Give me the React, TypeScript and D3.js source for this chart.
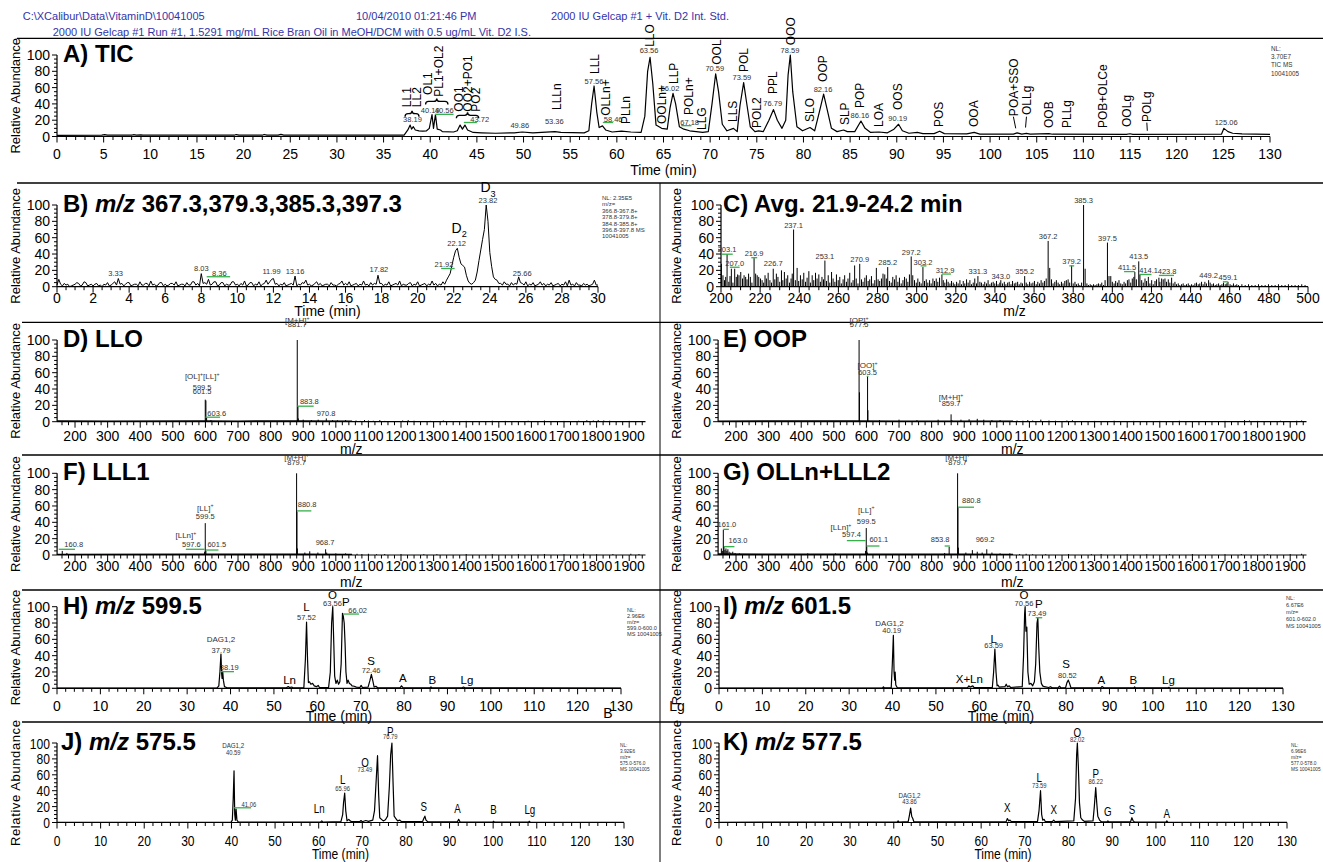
import React from 'react';
import * as d3 from 'd3';

type Pair = [number, number];
type Lab = [number, number, string];
type Seg = [number, number, number];

const FONT = "'Liberation Sans', Arial, Helvetica, sans-serif";
const BLUE = '#3434aa';
const GREEN = '#36b04a';
const INK = '#000';
const SOFT = '#333';

// ================= header =================
const headerPath = 'C:\\XCalibur\\Data\\VitaminD\\10041005';
const headerDate = '10/04/2010 01:21:46 PM';
const headerSample = '2000 IU Gelcap #1 + Vit. D2 Int. Std.';
const headerDesc = '2000 IU Gelcap #1 Run #1, 1.5291 mg/mL Rice Bran Oil in MeOH/DCM with 0.5 ug/mL Vit. D2 I.S.';

const yTicks = [0, 20, 40, 60, 80, 100];

// ================= A) TIC =================
const ticTrace: Pair[] = [
  [0, 1.5], [4.8, 1.6], [5.1, 2.3], [5.4, 1.6], [8.0, 1.6], [8.2, 2.2], [8.5, 1.6], [9.0, 2.0], [9.2, 1.6],
  [19.0, 1.6], [19.2, 2.4], [19.5, 1.6], [22.0, 1.6], [22.2, 2.5], [22.5, 1.6], [23.7, 1.6], [24.0, 2.6], [24.3, 1.6],
  [37.2, 1.8], [37.6, 8], [37.85, 14], [38.0, 9], [38.19, 12], [38.4, 8], [38.8, 7], [39.2, 6.5], [39.6, 7],
  [39.9, 10], [40.19, 27], [40.35, 10], [40.56, 27], [40.75, 9], [41.1, 8], [41.3, 6], [42.5, 5.5], [42.9, 7],
  [43.2, 14], [43.45, 9], [43.72, 14], [44.0, 8], [44.6, 5], [45.5, 4.5], [47, 4], [49, 4.5], [49.86, 5.5],
  [51, 4.5], [53.36, 6], [54, 5], [56.5, 4.5], [57.0, 7], [57.3, 40], [57.56, 62], [57.85, 30], [58.1, 11],
  [58.46, 13], [58.8, 8], [59.5, 5.5], [60.5, 6.5], [61.5, 5.5], [62.6, 5], [63.0, 25], [63.3, 80], [63.56, 97],
  [63.85, 65], [64.2, 14], [64.8, 10], [65.4, 9], [65.7, 35], [66.02, 53], [66.3, 40], [66.7, 12], [67.18, 9],
  [67.8, 7], [68.5, 6], [69.2, 5], [69.8, 6], [70.2, 40], [70.59, 77], [70.9, 55], [71.3, 15], [71.8, 7],
  [72.5, 10], [72.9, 6], [73.2, 38], [73.59, 66], [73.9, 42], [74.3, 12], [74.8, 6], [75.2, 7], [75.7, 6],
  [76.3, 20], [76.79, 33], [77.2, 20], [77.7, 10], [78.1, 20], [78.35, 75], [78.59, 100], [78.85, 55],
  [79.3, 12], [79.9, 7], [80.7, 11], [81.2, 7], [81.7, 30], [82.16, 52], [82.5, 35], [83.0, 10], [83.6, 6],
  [84.3, 8], [84.7, 6], [85.5, 6], [86.16, 19], [86.6, 10], [87.2, 5], [88.1, 5.5], [89.0, 4.5], [89.7, 9],
  [90.19, 15], [90.6, 7], [91.3, 4], [92.2, 5], [92.8, 3.5], [94.0, 3.5], [94.6, 6.5], [95.1, 3.5], [97.5, 3.3],
  [98.3, 5], [98.9, 3], [102.5, 3], [102.9, 4.5], [103.4, 3], [103.9, 3.8], [104.3, 3], [106.3, 3.6],
  [106.7, 2.8], [114.6, 2.6], [115, 3.4], [115.3, 2.6], [124.8, 2.8], [125.06, 10], [125.5, 6], [126, 4],
  [127, 3.2], [128.5, 2.8], [130, 2.5],
];
const ticPeakLabels: Lab[] = [
  [38.1, 17.8, '38.19'], [40.0, 28.8, '40.19'], [41.5, 28.8, '40.56'], [45.3, 17.8, '43.72'],
  [49.6, 10.4, '49.86'], [53.3, 15.3, '53.36'], [57.55, 64.7, '57.56'], [59.6, 17.8, '58.46'],
  [63.45, 102.5, '63.56'], [65.7, 55.4, '66.02'], [67.8, 14.1, '67.18'], [70.5, 80.4, '70.59'],
  [73.4, 69.5, '73.59'], [76.7, 37, '76.79'], [78.55, 102.5, '78.59'], [82.1, 54, '82.16'],
  [86.05, 22.7, '86.16'], [90.1, 18.6, '90.19'], [125.3, 13.7, '125.06'],
];
const ticNames: Lab[] = [
  [37.5, 36, 'LL1'], [38.5, 36, 'LL2'], [39.7, 51, 'OL1'], [40.9, 48.8, 'PL1+OL2'],
  [43.0, 30.5, 'OO1'], [44.0, 30.5, 'OO2+PO1'], [44.9, 30.5, 'PO2'],
  [53.55, 32.5, 'LLLn'], [57.65, 76.7, 'LLL'], [58.85, 25.5, 'OLLn+'], [60.9, 15.3, 'PLLn'],
  [63.5, 110, 'LLO'], [64.8, 15.3, 'OOLn+'], [66.05, 64.4, 'LLP'], [67.66, 26.4, 'POLn+'],
  [69.1, 8, 'LLG'], [70.7, 88, 'OOL'], [72.4, 17.8, 'LLS'], [73.55, 79, 'POL'], [75.0, 10.4, 'POL2'],
  [76.75, 52, 'PPL'], [78.6, 112, 'OOO'], [80.7, 17.8, 'SLO'], [82.1, 67, 'OOP'], [84.45, 14, 'SLP'],
  [86.05, 35, 'POP'], [88.1, 11.7, 'LOA'], [90.05, 32.5, 'OOS'], [94.45, 11.7, 'POS'], [98.2, 11.7, 'OOA'],
  [102.5, 25, 'POA+SSO'], [103.9, 26.4, 'OLLg'], [106.3, 10.4, 'OOB'], [108.2, 10.4, 'PLLg'],
  [112.1, 10.4, 'POB+OLCe'], [114.6, 11.7, 'OOLg'], [116.8, 17.8, 'POLg'],
];
const ticLeaders: [number, number, number, number][] = [
  [102.5, 24.3, 102.75, 10], [103.9, 24.3, 103.8, 11], [116.8, 17, 116.85, 7],
];
const ticBraces: Seg[] = [[37.3, 38.8, 28], [39.5, 41.9, 43], [42.8, 45.2, 26]];
const ticGreens: Seg[] = [[40.5, 42.5, 27.2], [43.6, 45.0, 17.2], [58.5, 59.6, 17.2], [66.9, 68.0, 13.3]];
const ticNL = ['NL:', '3.70E7', 'TIC  MS', '10041005'];

// ================= B) m/z 367.3,379.3,385.3,397.3  (sampled every 0.1 min) =================
const bStep = 0.1;
const bValues = [
  2, 9, 3, 1, 4, 2, 3, 0, 1, 2, 3, 5, 4, 1, 2, 6, 5, 1, 2, 3,
  1, 3, 4, 1, 2, 0, 3, 2, 5, 1, 2, 4, 6, 2, 10, 3, 4, 1, 3, 5,
  5, 1, 2, 3, 3, 1, 6, 2, 2, 4, 4, 1, 7, 2, 3, 1, 2, 5, 5, 1,
  3, 1, 2, 4, 4, 2, 6, 1, 2, 3, 3, 1, 5, 2, 2, 6, 6, 2, 4, 1,
  16, 4, 5, 3, 9, 2, 3, 6, 6, 1, 2, 5, 5, 1, 3, 2, 2, 6, 6, 2,
  3, 1, 4, 2, 7, 1, 2, 5, 5, 1, 3, 2, 6, 1, 3, 4, 8, 3, 6, 9,
  10, 3, 4, 1, 3, 2, 5, 1, 2, 3, 4, 2, 13, 1, 3, 2, 5, 4, 8, 2,
  3, 1, 2, 4, 6, 2, 4, 1, 2, 3, 3, 1, 5, 2, 2, 1, 3, 4, 7, 2,
  4, 2, 6, 1, 2, 3, 4, 1, 3, 2, 7, 2, 3, 1, 5, 2, 4, 3, 14, 4,
  4, 1, 3, 2, 6, 1, 2, 3, 4, 2, 7, 1, 3, 2, 2, 4, 5, 1, 3, 2,
  6, 1, 2, 3, 4, 1, 3, 2, 7, 2, 4, 1, 3, 2, 6, 3, 8, 12, 16, 26,
  36, 44, 47, 36, 28, 26, 24, 14, 7, 4, 3, 5, 8, 18, 32, 45, 58, 70, 100, 80,
  42, 25, 12, 9, 8, 4, 4, 2, 6, 3, 3, 1, 5, 2, 4, 3, 12, 5, 4, 2,
  6, 1, 3, 2, 5, 1, 2, 3, 6, 2, 4, 1, 3, 2, 5, 1, 2, 3, 4, 1,
  3, 2, 6, 1, 8, 2, 3, 1, 5, 2, 2, 1, 4, 2, 3, 1, 2, 3, 8, 2,
  2,
];
const bPeakLabels: Lab[] = [
  [3.25, 13.7, '3.33'], [8.0, 19, '8.03'], [9.0, 13.7, '8.36'], [11.9, 15, '11.99'], [13.2, 15.6, '13.16'],
  [17.85, 18, '17.82'], [21.46, 24, '21.92'], [22.16, 49.5, '22.12'], [23.9, 103, '23.82'], [25.8, 13.7, '25.66'],
];
const bGreens: Seg[] = [[8.3, 9.6, 12.2], [21.3, 22.05, 22.3]];
const bVitD: Lab[] = [[22.3, 66, 'D_2'], [23.9, 115.5, 'D_3']];
const bNL = ['NL: 2.35E5', 'm/z=', '366.8-367.8+', '378.8-379.8+', '384.8-385.8+', '396.8-397.8  MS', '10041005'];

// ================= C) Avg. 21.9-24.2 min =================
const cBars: Pair[] = [
  [200.2, 28], [201.0, 14], [201.8, 8], [202.4, 12], [203.1, 40], [204.0, 6], [204.6, 13], [205.3, 22], [206.1, 5],
  [207.0, 22], [207.8, 12], [208.5, 15], [209.2, 14], [210.1, 18], [211.0, 10], [211.8, 14], [212.6, 12], [213.3, 9],
  [214.1, 16], [215.0, 12], [215.8, 5], [216.9, 35], [217.7, 16], [218.5, 14], [219.3, 12], [220.2, 10], [221.0, 8],
  [221.8, 5], [222.5, 14], [223.2, 10], [224.1, 17], [225.0, 8], [225.8, 5], [226.7, 22], [227.5, 9], [228.3, 16],
  [229.1, 12], [230.0, 6], [230.9, 20], [231.6, 8], [232.4, 18], [233.3, 10], [234.1, 14], [235.0, 5], [235.8, 10],
  [236.4, 16], [237.1, 70], [238.0, 8], [238.9, 23], [239.7, 7], [240.6, 14], [241.5, 9], [242.3, 17], [243.2, 6],
  [244.0, 11], [244.9, 19], [245.7, 5], [246.6, 14], [247.4, 8], [248.3, 17], [249.1, 10], [250.0, 15], [250.8, 6],
  [251.6, 12], [252.4, 9], [253.1, 32], [253.9, 7], [254.8, 14], [255.6, 5], [256.5, 18], [257.3, 10], [258.2, 6],
  [259.0, 15], [259.9, 8], [260.7, 12], [261.5, 4], [262.4, 9], [263.2, 14], [264.1, 6], [264.9, 10], [265.8, 17],
  [266.6, 5], [267.5, 8], [268.3, 26], [269.1, 10], [270.0, 4], [270.9, 28], [271.8, 9], [272.6, 6], [273.5, 11],
  [274.3, 14], [275.2, 7], [276.0, 9], [276.9, 13], [277.7, 4], [278.6, 8], [279.4, 23], [280.3, 9], [281.1, 7],
  [282.0, 10], [282.8, 16], [283.7, 15], [284.5, 10], [285.2, 24], [286.1, 7], [287.0, 5], [287.8, 12], [288.7, 9],
  [289.5, 14], [290.4, 6], [291.2, 11], [292.1, 4], [293.0, 8], [293.8, 12], [294.7, 10], [295.5, 6], [296.3, 15],
  [297.2, 37], [298.0, 14], [298.9, 8], [299.8, 5], [300.6, 10], [301.5, 6], [302.3, 4], [303.2, 24], [304.0, 7],
  [304.9, 9], [305.7, 5], [306.6, 8], [307.4, 4], [308.3, 10], [309.1, 7], [310.0, 10], [310.8, 6], [311.7, 11],
  [312.9, 15], [313.6, 8], [314.4, 5], [315.3, 9], [316.1, 6], [317.0, 4], [317.8, 7], [318.7, 5], [319.5, 3],
  [320.4, 6], [321.2, 4], [322.1, 8], [322.9, 3], [323.8, 7], [324.6, 4], [325.5, 9], [326.3, 5], [327.2, 8],
  [328.0, 3], [328.9, 5], [329.7, 10], [330.6, 4], [331.3, 13], [332.3, 6], [333.1, 5], [334.0, 3], [334.8, 6],
  [335.7, 4], [336.5, 8], [337.4, 3], [338.2, 5], [339.1, 6], [339.9, 4], [340.8, 7], [341.6, 3], [342.5, 5],
  [343.0, 8], [343.9, 4], [344.8, 6], [345.6, 3], [346.5, 5], [347.3, 6], [348.2, 3], [349.0, 7], [349.9, 4],
  [350.7, 5], [351.6, 6], [352.4, 3], [353.3, 5], [354.1, 4], [355.2, 13], [356.0, 5], [356.8, 3], [357.7, 6],
  [358.5, 4], [359.4, 5], [360.2, 7], [361.1, 3], [361.9, 6], [362.8, 4], [363.6, 8], [364.5, 5], [365.3, 7],
  [366.2, 10], [367.2, 56], [368.0, 23], [368.9, 9], [369.7, 4], [370.6, 6], [371.4, 8], [372.3, 5], [373.1, 3],
  [374.0, 6], [374.8, 4], [375.7, 7], [376.5, 8], [377.4, 9], [378.2, 5], [379.2, 26], [380.0, 4], [380.9, 6],
  [381.7, 3], [382.6, 4], [383.4, 2], [384.3, 5], [385.3, 100], [386.1, 22], [387.0, 4], [387.8, 2], [388.7, 3],
  [389.5, 2], [390.4, 3], [391.2, 2], [392.1, 3], [392.9, 4], [393.8, 3], [394.6, 5], [395.5, 2], [396.3, 8],
  [397.5, 54], [398.3, 13], [399.2, 13], [400.0, 6], [400.9, 4], [401.7, 7], [402.6, 5], [403.4, 8], [404.3, 4],
  [405.1, 3], [406.0, 6], [406.8, 4], [407.7, 8], [408.5, 9], [409.4, 5], [410.2, 10], [411.0, 12], [411.5, 18],
  [412.3, 9], [413.5, 31], [414.1, 15], [415.0, 8], [415.8, 5], [416.7, 10], [417.5, 7], [418.4, 12], [419.2, 4],
  [420.1, 8], [420.9, 3], [421.8, 7], [422.6, 9], [423.8, 11], [424.3, 6], [425.2, 10], [426.0, 9], [426.9, 10],
  [427.7, 6], [428.6, 9], [429.4, 5], [430.3, 11], [431.1, 4], [432.0, 6], [432.8, 3], [433.7, 4], [434.5, 2],
  [435.4, 3], [436.2, 4], [437.1, 2], [437.9, 3], [438.8, 4], [439.6, 2], [440.5, 3], [441.3, 2], [442.2, 4],
  [443.0, 5], [443.9, 3], [444.7, 4], [445.6, 6], [446.4, 3], [447.3, 6], [448.1, 4], [449.2, 8], [450.0, 5],
  [450.9, 3], [451.7, 4], [452.6, 2], [453.4, 3], [454.3, 4], [455.1, 2], [456.0, 3], [456.8, 5], [457.7, 3],
  [458.5, 4], [459.1, 6], [460.2, 3], [461.1, 2], [461.9, 4], [462.8, 2], [463.6, 3], [464.5, 2], [466.2, 3],
  [467.9, 2], [469.6, 3], [471.3, 2], [473.0, 2], [474.7, 3], [476.4, 2], [478.1, 2], [479.8, 3], [481.5, 2],
  [483.2, 2], [484.9, 3], [486.6, 2], [488.3, 2], [490.0, 3], [491.7, 2], [493.4, 2], [495.1, 2], [496.8, 3], [498.5, 2],
];
const cPeakLabels: Lab[] = [
  [203.1, 42, '203.1'], [207.0, 25.5, '207.0'], [216.9, 37.5, '216.9'], [226.7, 25, '226.7'], [237.1, 72, '237.1'],
  [253.1, 34, '253.1'], [270.9, 30, '270.9'], [285.2, 26, '285.2'], [297.2, 39, '297.2'], [303.2, 27, '303.2'],
  [314.5, 17, '312.9'], [331.3, 16, '331.3'], [343.0, 10, '343.0'], [355.2, 15.5, '355.2'], [367.2, 58.5, '367.2'],
  [379.2, 28, '379.2'], [385.3, 102.5, '385.3'], [397.5, 56.5, '397.5'], [407.5, 20, '411.5'], [413.5, 33.5, '413.5'],
  [418.5, 17, '414.1'], [428, 16, '423.8'], [449.2, 10.5, '449.2'], [459.1, 8.5, '459.1'],
];
const cGreens: Seg[] = [
  [200.5, 206, 39.8], [204.5, 209.5, 23.8], [215.5, 218.5, 35.5], [302, 305, 25.5], [312.9, 317.5, 15.5],
  [378, 380.5, 25.5], [406, 411.5, 18.5], [414.1, 420, 15], [423.8, 431.5, 13.8], [456.5, 459, 6],
];

// ================= D) LLO =================
const dBars: Pair[] = [
  [599.5, 27], [601.5, 26], [603.6, 5], [617, 2], [881.7, 100], [883.8, 19], [885, 4], [900, 2.5], [925, 2],
  [946, 2.5], [970.8, 4], [990, 2], [1005, 1.8], [1030, 2], [1062, 1.5], [1075, 1], [1088, 2], [1100, 1.5],
  [1115, 1.2], [1135, 2], [1150, 1], [1205, 1.5], [1222, 2], [1240, 1.2], [1290, 1], [1330, 1.5], [1400, 1],
  [1480, 1.2], [1520, 1], [1590, 1.2], [1640, 1.5], [1700, 1], [1745, 1.2], [1770, 1.8], [1790, 1.5],
  [1805, 2], [1822, 1.5], [1840, 1.2], [1900, 1],
];
const dFloor: Pair[] = [[145, 1.8], [300, 1.6], [590, 1.8], [700, 1.6], [880, 1.8], [1050, 1.5]];
const dPeakLabels: Lab[] = [[881.7, 115.9, '881.7'], [590, 39.4, '599.5'], [590, 34, '601.5'], [634.7, 7.5, '603.6'], [918.7, 21.5, '883.8'], [970, 7.5, '970.8']];
const dTags: Lab[] = [[881.7, 120.8, '[M+H]^+'], [590, 52, '[OL]^+[LL]^+']];
const dGreens: Seg[] = [[600, 645, 5.5], [881.7, 932, 19]];

// ================= E) OOP =================
const eBars: Pair[] = [
  [577.5, 100], [578.6, 36], [603.5, 55], [604.6, 14], [640, 2], [700, 2.5], [755, 2], [820, 2.5], [859.7, 9],
  [862, 2], [890, 2.5], [915, 3], [940, 3.5], [960, 2.5], [985, 2], [1010, 2], [1062, 1.5], [1080, 1.2],
  [1095, 2], [1110, 1.5], [1135, 2.5], [1160, 1.5], [1180, 1.2], [1215, 1.5], [1232, 1.8], [1300, 1],
  [1360, 1.2], [1420, 1], [1500, 1], [1560, 1.2], [1700, 1], [1760, 2], [1775, 1.5], [1800, 1], [1870, 1.2],
  [1920, 1.2], [1935, 1.5],
];
const eFloor: Pair[] = [[145, 1.6], [560, 1.8], [700, 1.6], [1050, 1.5]];
const ePeakLabels: Lab[] = [[577.5, 115.9, '577.5'], [603.5, 57.2, '603.5'], [859.7, 19.2, '859.7']];
const eTags: Lab[] = [[577.5, 120.8, '[OP]^+'], [603.5, 65.7, '[OO]^+'], [859.7, 26.6, '[M+H]^+']];
const eGreens: Seg[] = [[601, 606, 55.5]];

// ================= F) LLL1 =================
const fBars: Pair[] = [
  [160.8, 5], [175, 2.5], [597.6, 4], [599.5, 39], [601.5, 5], [879.7, 100], [880.8, 53], [882, 8], [905, 3],
  [920, 4.5], [945, 3], [968.7, 7], [972, 3], [1000, 2], [1030, 2], [1065, 1.5], [1080, 1.2], [1100, 1.5],
  [1125, 1], [1150, 1.2], [1200, 1.2], [1270, 1], [1310, 1], [1400, 1.2], [1480, 1], [1560, 1], [1640, 1.2],
  [1700, 1], [1760, 1.5], [1800, 1], [1850, 1.2], [1905, 1.5], [1930, 1.2],
];
const fFloor: Pair[] = [[145, 1.6], [580, 1.8], [900, 1.8], [1050, 1.5]];
const fPeakLabels: Lab[] = [[879.7, 110, '879.7'], [599.5, 43.7, '599.5'], [557, 9.4, '597.6'], [635, 9.4, '601.5'], [912, 59, '880.8'], [967, 12.2, '968.7'], [196, 10.2, '160.8']];
const fTags: Lab[] = [[879.7, 116, '[M+H]^+'], [599.5, 54.3, '[LL]^+'], [540, 20.4, '[LLn]^+']];
const fGreens: Seg[] = [[540, 597.6, 7], [601.5, 640, 6.1], [880.8, 925, 54], [150, 200, 7]];

// ================= G) OLLn+LLL2 =================
const gBars: Pair[] = [
  [155, 8], [158, 5], [161.0, 31], [163.0, 10], [166, 6], [169, 8], [172, 5], [175, 7], [179, 4], [184, 3],
  [190, 4], [197, 2.5], [210, 2], [420, 2], [505, 2], [597.4, 5], [599.5, 33], [601.1, 10], [603, 3], [840, 2.5],
  [853.8, 10], [879.7, 100], [880.8, 58], [882, 9], [905, 3], [925, 6], [940, 4], [955, 3], [969.2, 7], [985, 3],
  [1010, 2], [1040, 2], [1070, 1.2], [1090, 1.5], [1110, 1], [1150, 1], [1220, 1.2], [1290, 1], [1320, 1.2],
  [1400, 1], [1460, 1], [1530, 1], [1600, 1.2], [1700, 1], [1750, 1.2], [1830, 1], [1900, 1.2], [1935, 1.5],
];
const gFloor: Pair[] = [[145, 2], [600, 1.8], [900, 1.8], [1050, 1.5]];
const gPeakLabels: Lab[] = [[879.7, 110, '879.7'], [922, 63.3, '880.8'], [599.5, 38, '599.5'], [554, 22.4, '597.4'], [638, 16.3, '601.1'], [826, 16.3, '853.8'], [964, 16.3, '969.2'], [172, 33.9, '161.0'], [206, 14.3, '163.0']];
const gTags: Lab[] = [[879.7, 116, '[M+H]^+'], [599.5, 51.8, '[LL]^+'], [522, 30.6, '[LLn]^+']];
const gGreens: Seg[] = [[880.8, 930, 58.5], [540, 597.4, 17.6], [601.1, 640, 11], [840, 856, 11], [161, 178, 31.4], [163, 195, 10.2]];

// ================= H) m/z 599.5 =================
const hTrace: Pair[] = [
  [0, 0.3], [30, 0.3], [36.9, 0.5], [37.3, 3], [37.55, 20], [37.79, 42], [37.95, 18], [38.05, 12], [38.19, 21],
  [38.35, 10], [38.6, 2], [39.2, 0.6], [52.9, 0.6], [53.3, 2.2], [53.6, 1], [54.1, 1.5], [54.4, 0.6], [56.9, 0.8],
  [57.25, 35], [57.52, 81], [57.75, 35], [57.95, 7], [58.2, 8], [58.5, 5], [58.9, 6], [59.3, 3], [59.8, 2],
  [60.2, 3.5], [60.5, 1], [62.6, 1], [63.0, 20], [63.3, 80], [63.56, 100], [63.8, 55], [64.0, 15], [64.3, 6],
  [64.6, 10], [64.9, 5], [65.2, 8], [65.5, 30], [65.8, 92], [66.0, 88], [66.2, 80], [66.4, 55], [66.6, 20],
  [66.85, 6], [67.1, 10], [67.4, 6], [67.7, 5], [68.0, 3], [68.5, 2.5], [69.0, 1.5], [69.8, 1], [70.1, 3.5],
  [70.4, 1], [71.7, 1.5], [72.1, 9], [72.46, 17], [72.8, 9], [73.1, 1.5], [73.5, 2.5], [73.9, 0.6], [79.1, 0.8],
  [79.4, 3], [79.7, 1], [86.0, 0.6], [86.2, 1.6], [86.4, 0.6], [93.4, 0.6], [93.7, 1.6], [94.0, 0.6], [130, 0.3],
];
const hPeakLabels: Lab[] = [[37.8, 43.3, '37.79'], [39.7, 22, '38.19'], [57.5, 83.3, '57.52'], [63.5, 101, '63.56'], [69.3, 92.2, '66.02'], [72.4, 18.8, '72.46']];
const hTags: Lab[] = [[37.8, 56.3, 'DAG1,2']];
const hNames: Lab[] = [[57.5, 94.7, 'L'], [63.5, 109, 'O'], [66.6, 100.8, 'P'], [72.4, 28.6, 'S'], [53.6, 4.9, 'Ln'], [79.7, 8.2, 'A'], [86.5, 5.7, 'B'], [94.5, 4.9, 'Lg']];
const hGreens: Seg[] = [[37.5, 40.8, 20.4], [66.0, 69.6, 91]];
const hNL = ['NL:', '2.96E6', 'm/z=', '599.0-600.0', 'MS 10041005'];

// ================= I) m/z 601.5 =================
const iTrace: Pair[] = [
  [0, 0.3], [37.7, 0.4], [37.9, 1.8], [38.1, 0.4], [39.7, 0.6], [39.95, 30], [40.19, 65], [40.35, 20], [40.5, 10],
  [40.6, 20], [40.75, 4], [41.1, 0.6], [57.3, 0.8], [57.6, 3], [57.9, 1.5], [58.5, 3], [58.8, 0.8], [63.0, 1],
  [63.3, 20], [63.59, 48], [63.85, 20], [64.1, 3], [64.3, 4], [64.6, 1.5], [65.9, 2], [66.2, 5], [66.5, 2],
  [66.9, 3], [67.2, 1], [69.9, 2], [70.2, 40], [70.45, 92], [70.56, 100], [70.75, 70], [70.95, 75], [71.2, 20],
  [71.5, 5], [71.9, 6], [72.3, 3], [72.7, 8], [73.0, 30], [73.3, 80], [73.49, 86], [73.7, 50], [73.95, 20],
  [74.3, 6], [74.6, 3], [75.0, 2], [76.0, 1], [76.4, 2], [76.8, 0.6], [78.2, 1], [78.5, 2.5], [78.8, 0.6],
  [79.9, 1], [80.2, 7], [80.52, 10], [80.8, 6], [81.1, 1], [88.0, 0.6], [88.3, 2.2], [88.7, 0.6], [95.6, 0.5],
  [95.8, 1.6], [96.0, 0.5], [103.5, 0.5], [103.7, 1.2], [103.9, 0.5], [130, 0.3],
];
const iPeakLabels: Lab[] = [[39.8, 67.5, '40.19'], [63.3, 49.8, '63.59'], [70.3, 101.2, '70.56'], [73.3, 88.5, '73.49'], [80.3, 13.1, '80.52']];
const iTags: Lab[] = [[39.3, 76.7, 'DAG1,2']];
const iNames: Lab[] = [[63.3, 55.9, 'L'], [70.3, 109, 'O'], [73.7, 98.8, 'P'], [80, 25.3, 'S'], [57.7, 6.9, 'X+Ln'], [88.1, 5.7, 'A'], [95.5, 5.7, 'B'], [103.6, 5.7, 'Lg']];
const iGreens: Seg[] = [[73.0, 74.5, 86.5]];
const iNL = ['NL:', '6.67E6', 'm/z=', '601.0-602.0', 'MS 10041005'];

// ================= J) m/z 575.5 =================
const jTrace: Pair[] = [
  [0, 0.3], [39.9, 0.5], [40.2, 3], [40.4, 30], [40.59, 65], [40.75, 10], [40.9, 3], [41.06, 17], [41.25, 3],
  [41.6, 0.5], [60.4, 0.5], [60.7, 2], [61.0, 0.5], [65.1, 1], [65.5, 10], [65.7, 25], [65.96, 37], [66.2, 15],
  [66.5, 2], [66.9, 4], [67.2, 2], [67.6, 1], [69.4, 1], [69.7, 2.5], [70.0, 1], [70.8, 2.5], [71.4, 1.5],
  [72.4, 3], [72.8, 15], [73.1, 45], [73.49, 84], [73.75, 35], [74.0, 6], [74.4, 4], [74.8, 2], [75.3, 3.5],
  [75.8, 8], [76.2, 45], [76.5, 85], [76.79, 100], [77.05, 50], [77.3, 8], [77.7, 5], [78.1, 2], [78.6, 3],
  [79.0, 1], [83.8, 1], [84.1, 5], [84.35, 8], [84.6, 3], [85.0, 1], [91.8, 0.8], [92.1, 4], [92.4, 0.8],
  [99.9, 0.5], [100.1, 1.5], [100.3, 0.5], [108.1, 0.5], [108.3, 1.5], [108.5, 0.5], [130, 0.3],
];
const jPeakLabels: Lab[] = [[40.4, 84.8, '40.59'], [44.0, 19.6, '41.06'], [65.5, 40, '65.96'], [70.6, 64, '73.49'], [76.4, 104.8, '76.79']];
const jTags: Lab[] = [[40.4, 93.6, 'DAG1,2']];
const jNames: Lab[] = [[60.1, 12, 'Ln'], [65.5, 49, 'L'], [70.6, 69.2, 'O'], [76.4, 109, 'P'], [84.1, 14.4, 'S'], [91.8, 12, 'A'], [100.1, 11.2, 'B'], [108.4, 10.4, 'Lg']];
const jGreens: Seg[] = [[40.6, 44.5, 18.5]];
const jNL = ['NL:', '3.92E6', 'm/z=', '575.0-576.0', 'MS 10041005'];

// ================= K) m/z 577.5 =================
const kTrace: Pair[] = [
  [0, 0.3], [40.8, 0.5], [41.0, 2], [41.2, 0.5], [43.3, 1], [43.55, 8], [43.86, 18], [44.1, 8], [44.35, 5],
  [44.6, 1], [65.7, 0.8], [66.0, 5], [66.3, 2], [66.6, 3], [66.9, 1], [72.9, 1.5], [73.25, 15], [73.59, 40],
  [73.85, 10], [74.1, 3], [74.4, 4], [74.7, 1], [76.3, 1], [76.6, 3], [76.9, 1], [81.2, 2], [81.6, 30],
  [81.85, 85], [82.02, 100], [82.25, 70], [82.5, 25], [82.8, 6], [83.2, 3], [83.6, 1.5], [85.6, 2], [85.9, 20],
  [86.22, 44], [86.45, 25], [86.7, 8], [87.1, 3], [87.5, 1], [88.8, 0.8], [89.0, 2], [89.3, 0.8], [94.2, 1],
  [94.5, 6], [94.8, 2], [95.1, 0.8], [102.3, 0.6], [102.5, 2], [102.7, 0.6], [130, 0.3],
];
const kPeakLabels: Lab[] = [[43.6, 22.8, '43.86'], [73.3, 43, '73.59'], [82.0, 100.8, '82.02'], [86.22, 48, '86.22']];
const kTags: Lab[] = [[43.6, 30.8, 'DAG1,2']];
const kNames: Lab[] = [[66.0, 13.2, 'X'], [73.3, 50.5, 'L'], [76.6, 11.2, 'X'], [82.0, 108, 'O'], [86.22, 56, 'P'], [89, 8, 'G'], [94.5, 11.2, 'S'], [102.5, 5.2, 'A']];
const kNL = ['NL:', '6.96E6', 'm/z=', '577.0-578.0', 'MS 10041005'];

// ================= layout =================
interface Cfg { x0: number; x1: number; d: [number, number]; y100: number; y0: number; lbl: number; xl: number }
const LAY: Record<string, Cfg> = {
  A: { x0: 57, x1: 1270, d: [0, 130], y100: 55, y0: 136.5, lbl: 17.5, xl: 33.5 },
  B: { x0: 57, x1: 598, d: [0, 30], y100: 205, y0: 286.7, lbl: 11.6, xl: 24.8 },
  C: { x0: 721, x1: 1308, d: [200, 500], y100: 205, y0: 286.7, lbl: 11.6, xl: 24.8 },
  D: { x0: 57.1, x1: 645.5, d: [145, 1950], y100: 340, y0: 421.7, lbl: 14.3, xl: 27.3 },
  E: { x0: 718.1, x1: 1306.5, d: [145, 1950], y100: 340, y0: 421.7, lbl: 14.3, xl: 27.3 },
  F: { x0: 57.1, x1: 645.5, d: [145, 1950], y100: 473.3, y0: 555, lbl: 11, xl: 27 },
  G: { x0: 718.1, x1: 1306.5, d: [145, 1950], y100: 473.3, y0: 555, lbl: 11, xl: 27 },
  H: { x0: 57, x1: 621, d: [0, 130], y100: 606.7, y0: 688.3, lbl: 17.7, xl: 28.4 },
  I: { x0: 719, x1: 1283, d: [0, 130], y100: 606.7, y0: 688.3, lbl: 17.7, xl: 28.4 },
  J: { x0: 57, x1: 624, d: [0, 130], y100: 743, y0: 822.5, lbl: 17.5, xl: 31.5 },
  K: { x0: 719, x1: 1287, d: [0, 130], y100: 743, y0: 822.5, lbl: 17.5, xl: 31.5 },
};

function sc(c: Cfg) {
  const x = d3.scaleLinear().domain(c.d).range([c.x0, c.x1]);
  const y = d3.scaleLinear().domain([0, 100]).range([c.y0, c.y100]);
  return { x, y };
}

function stepTicks(d: [number, number], step: number) {
  const out: number[] = [];
  const s = Math.ceil(d[0] / step - 1e-9);
  const e = Math.floor(d[1] / step + 1e-9);
  for (let i = s; i <= e; i++) out.push(+(i * step).toFixed(6));
  return out;
}

function T({ x, y, size = 14, anchor = 'middle', sx = 1, rotate = 0, weight = 'normal', fill = INK, children, ls }: any) {
  const tr = `translate(${x},${y})` + (rotate ? ` rotate(${rotate})` : '') + (sx !== 1 ? ` scale(${sx},1)` : '');
  return (
    <text transform={tr} fontSize={size} textAnchor={anchor} fontWeight={weight} fill={fill} fontFamily={FONT} letterSpacing={ls}>
      {children}
    </text>
  );
}

function rich(s: string, size: number) {
  const re = /([\^_])(.)/g;
  const out: React.ReactNode[] = [];
  let last = 0, shift = 0, k = 0;
  let m: RegExpExecArray | null;
  while ((m = re.exec(s))) {
    if (m.index > last) { out.push(<tspan key={k++} dy={-shift}>{s.slice(last, m.index)}</tspan>); shift = 0; }
    const d = m[1] === '^' ? -size * 0.42 : size * 0.3;
    out.push(<tspan key={k++} dy={d - shift} fontSize={size * 0.65}>{m[2]}</tspan>);
    shift = d;
    last = re.lastIndex;
  }
  if (last < s.length) out.push(<tspan key={k++} dy={-shift}>{s.slice(last)}</tspan>);
  return out;
}

function Frame({ c, major, minor, xlabel, right, sx = 1, ls, fs = 14 }: any) {
  const { x, y } = sc(c);
  const majors = stepTicks(c.d, major);
  const minors = stepTicks(c.d, minor).filter((v) => !majors.some((mm) => Math.abs(mm - v) < 1e-6));
  const yMinor = stepTicks([0, 100], 5).filter((v) => v % 20 !== 0);
  const ylx = right ? 681 : 20;
  const half = fs * 0.36;
  return (
    <g>
      <line x1={c.x0} x2={c.x1} y1={c.y0} y2={c.y0} stroke={INK} strokeWidth={1.2} />
      <line x1={c.x0} x2={c.x0} y1={c.y0} y2={c.y100} stroke={INK} strokeWidth={1.2} />
      {majors.map((v) => <line key={'M' + v} x1={x(v)} x2={x(v)} y1={c.y0} y2={c.y0 + 6} stroke={INK} />)}
      {minors.map((v) => <line key={'m' + v} x1={x(v)} x2={x(v)} y1={c.y0} y2={c.y0 + 3.5} stroke={INK} />)}
      {majors.map((v) => <T key={'L' + v} x={x(v)} y={c.y0 + c.lbl + half} size={fs} sx={sx}>{String(v)}</T>)}
      {yTicks.map((v) => <line key={'Y' + v} x1={c.x0 - 5} x2={c.x0} y1={y(v)} y2={y(v)} stroke={INK} />)}
      {yMinor.map((v) => <line key={'y' + v} x1={c.x0 - 3} x2={c.x0} y1={y(v)} y2={y(v)} stroke={INK} />)}
      {yTicks.map((v) => <T key={'YL' + v} x={c.x0 - 7} y={y(v) + half} size={fs} anchor="end" sx={sx}>{String(v)}</T>)}
      <T x={(c.x0 + c.x1) / 2} y={c.y0 + c.xl + 4.5} size={fs} sx={sx}>{xlabel}</T>
      <T x={ylx} y={(c.y0 + c.y100) / 2} size={13} rotate={-90} ls={ls}>Relative Abundance</T>
    </g>
  );
}

function Panel(p: any) {
  const c: Cfg = p.c;
  const { x, y } = sc(c);
  const sx = p.sx ?? 1;
  const line = d3.line<Pair>().x((d) => x(d[0])).y((d) => y(d[1]));
  const area = d3.area<Pair>().x((d) => x(d[0])).y0(c.y0).y1((d) => y(d[1]));
  return (
    <g>
      <Frame c={c} major={p.major} minor={p.minor} xlabel={p.xlabel} right={p.right} sx={sx} ls={p.ls} fs={p.fs ?? 14} />
      {p.floor && <path d={area(p.floor) || ''} fill={INK} />}
      {p.bars && p.bars.map(([m, v]: Pair, i: number) => (
        <line key={'b' + i} x1={x(m)} x2={x(m)} y1={c.y0} y2={y(v)} stroke={INK} strokeWidth={1} />
      ))}
      {p.trace && <path d={line(p.trace) || ''} fill="none" stroke={INK} strokeWidth={p.lw ?? 1.2} strokeLinejoin="round" />}
      {(p.greens || []).map(([a, b, l]: Seg, i: number) => (
        <line key={'g' + i} x1={x(a)} x2={x(b)} y1={y(l)} y2={y(l)} stroke={GREEN} strokeWidth={1.3} />
      ))}
      {(p.nums || []).map(([a, l, s]: Lab, i: number) => (
        <T key={'n' + i} x={x(a)} y={y(l)} size={7.5} fill={SOFT} sx={sx}>{s}</T>
      ))}
      {(p.tags || []).map(([a, l, s]: Lab, i: number) => (
        <T key={'t' + i} x={x(a)} y={y(l)} size={8} fill={SOFT} sx={sx}>{rich(s, 8)}</T>
      ))}
      {(p.names || []).map(([a, l, s]: Lab, i: number) => (
        <T key={'a' + i} x={x(a)} y={y(l)} size={p.nameSize ?? 11.5} sx={sx}>{s}</T>
      ))}
      {(p.nl || []).map((s: string, i: number) => (
        <T key={'nl' + i} x={p.nlX} y={p.nlY + i * p.nlGap} size={p.nlSize ?? 6} anchor="start" fill={SOFT} sx={p.nlSx ?? 1}>{s}</T>
      ))}
      <T x={p.titleX} y={c.y100 + 7} size={24} weight="bold" anchor="start">{p.title}</T>
    </g>
  );
}

function bracePath(x1: number, x2: number, yb: number) {
  const xm = (x1 + x2) / 2, h = 3;
  return `M${x1},${yb + h} Q${x1},${yb} ${x1 + h},${yb} L${xm - h},${yb} Q${xm},${yb} ${xm},${yb - h} Q${xm},${yb} ${xm + h},${yb} L${x2 - h},${yb} Q${x2},${yb} ${x2},${yb + h}`;
}

const mz = (rest: string, letter: string) => (
  <>
    {letter + ') '}
    <tspan fontStyle="italic">m/z</tspan>
    {' ' + rest}
  </>
);

export default function App() {
  const A = sc(LAY.A);
  const B = sc(LAY.B);
  const bTrace: Pair[] = bValues.map((v, i) => [+(i * bStep).toFixed(2), v]);
  return (
    <svg width={1323} height={862} style={{ position: 'absolute', left: 0, top: 0, background: '#fff' }} fontFamily={FONT}>
      <rect x={0} y={0} width={1323} height={862} fill="#fff" />
      {/* header */}
      <T x={22.7} y={20} size={11} anchor="start" fill={BLUE}>{headerPath}</T>
      <T x={356} y={20} size={11} anchor="start" fill={BLUE}>{headerDate}</T>
      <T x={551} y={20} size={11} anchor="start" fill={BLUE}>{headerSample}</T>
      <T x={52.7} y={35.5} size={11} anchor="start" fill={BLUE}>{headerDesc}</T>
      <line x1={17} x2={1323} y1={38.3} y2={38.3} stroke={INK} strokeWidth={1.3} />

      {/* separators */}
      <line x1={17} x2={1323} y1={183} y2={183} stroke={INK} strokeWidth={1.3} />
      <line x1={22} x2={1323} y1={322.3} y2={322.3} stroke={INK} strokeWidth={1.3} />
      <line x1={22} x2={1323} y1={455} y2={455} stroke={INK} strokeWidth={1.3} />
      <line x1={22} x2={1323} y1={590} y2={590} stroke={INK} strokeWidth={1.3} />
      <line x1={22} x2={1323} y1={722} y2={722} stroke={INK} strokeWidth={1.3} />
      <line x1={660} x2={660} y1={183} y2={862} stroke={INK} strokeWidth={1} />

      {/* A */}
      <Panel c={LAY.A} major={5} minor={1} xlabel="Time (min)" trace={ticTrace} nums={ticPeakLabels}
        greens={ticGreens} nl={ticNL} nlX={1271} nlY={50.5} nlGap={8.4} nlSize={6.3} title="A) TIC" titleX={63} />
      {ticNames.map(([t, l, s], i) => (
        <T key={'tn' + i} x={A.x(t) + 4.3} y={A.y(l)} size={12} rotate={-90} anchor="start">{s}</T>
      ))}
      {ticLeaders.map(([t1, l1, t2, l2], i) => (
        <line key={'ld' + i} x1={A.x(t1)} y1={A.y(l1)} x2={A.x(t2)} y2={A.y(l2)} stroke={INK} strokeWidth={1} />
      ))}
      {ticBraces.map(([t1, t2, l], i) => (
        <path key={'br' + i} d={bracePath(A.x(t1), A.x(t2), A.y(l))} fill="none" stroke={INK} strokeWidth={1.3} />
      ))}

      {/* B */}
      <Panel c={LAY.B} major={2} minor={0.5} xlabel="Time (min)" trace={bTrace} lw={1} nums={bPeakLabels}
        greens={bGreens} nl={bNL} nlX={602} nlY={200} nlGap={6.4} nlSize={6}
        title={mz('367.3,379.3,385.3,397.3', 'B')} titleX={63} />
      {bVitD.map(([t, l, s], i) => (
        <T key={'vd' + i} x={B.x(t)} y={B.y(l)} size={14}>{rich(s, 14)}</T>
      ))}

      {/* C */}
      <Panel c={LAY.C} right major={20} minor={5} xlabel="m/z" bars={cBars} nums={cPeakLabels} greens={cGreens}
        title="C) Avg. 21.9-24.2 min" titleX={723} />

      {/* D, E */}
      <Panel c={LAY.D} major={100} minor={20} xlabel="m/z" bars={dBars} floor={dFloor} nums={dPeakLabels}
        tags={dTags} greens={dGreens} title="D) LLO" titleX={63} />
      <Panel c={LAY.E} right major={100} minor={20} xlabel="m/z" bars={eBars} floor={eFloor} nums={ePeakLabels}
        tags={eTags} greens={eGreens} title="E) OOP" titleX={723} />

      {/* F, G */}
      <Panel c={LAY.F} major={100} minor={20} xlabel="m/z" bars={fBars} floor={fFloor} nums={fPeakLabels}
        tags={fTags} greens={fGreens} title="F) LLL1" titleX={63} />
      <Panel c={LAY.G} right major={100} minor={20} xlabel="m/z" bars={gBars} floor={gFloor} nums={gPeakLabels}
        tags={gTags} greens={gGreens} title="G) OLLn+LLL2" titleX={723} />

      {/* H, I */}
      <Panel c={LAY.H} major={10} minor={2} xlabel="Time (min)" trace={hTrace} nums={hPeakLabels} tags={hTags}
        names={hNames} greens={hGreens} nl={hNL} nlX={627} nlY={612} nlGap={6} nlSize={5.6} title={mz('599.5', 'H')} titleX={63} />
      <Panel c={LAY.I} right major={10} minor={2} xlabel="Time (min)" trace={iTrace} nums={iPeakLabels} tags={iTags}
        names={iNames} greens={iGreens} nl={iNL} nlX={1286} nlY={600} nlGap={7} nlSize={5.6} title={mz('601.5', 'I')} titleX={723} />
      <T x={608} y={718} size={14}>B</T>
      <T x={677} y={711} size={14}>Lg</T>

      {/* J, K */}
      <Panel c={LAY.J} sx={0.78} fs={15.5} ls={0.6} nameSize={12.5} major={10} minor={2} xlabel="Time (min)" trace={jTrace} nums={jPeakLabels}
        tags={jTags} names={jNames} greens={jGreens} nl={jNL} nlX={620} nlY={747} nlGap={6} nlSize={5.8} nlSx={0.82}
        title={mz('575.5', 'J')} titleX={61} />
      <Panel c={LAY.K} right sx={0.78} fs={15.5} ls={0.6} nameSize={12.5} major={10} minor={2} xlabel="Time (min)" trace={kTrace} nums={kPeakLabels}
        tags={kTags} names={kNames} nl={kNL} nlX={1291} nlY={747} nlGap={6} nlSize={5.8} nlSx={0.82}
        title={mz('577.5', 'K')} titleX={723} />
    </svg>
  );
}
